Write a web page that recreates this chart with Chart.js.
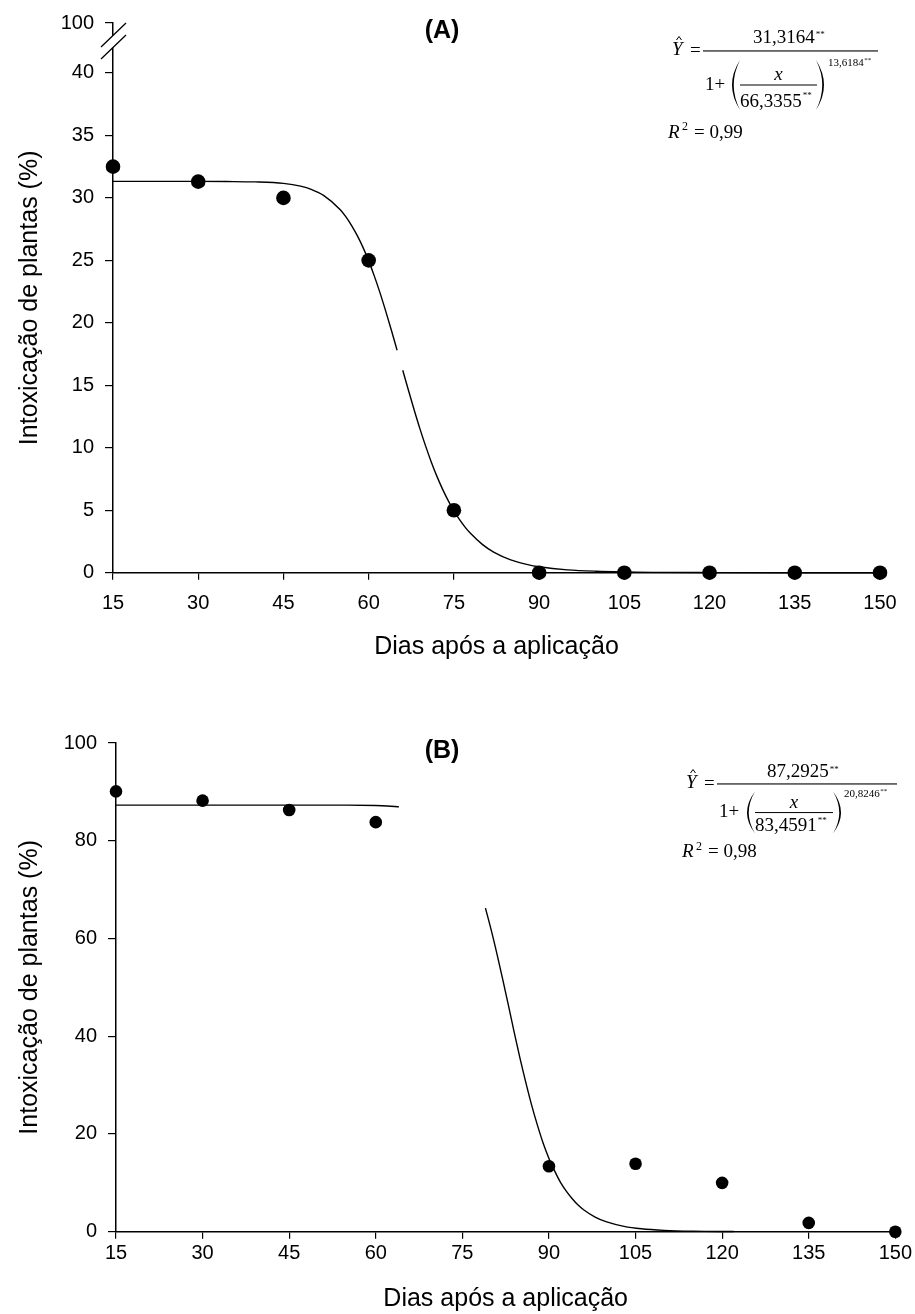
<!DOCTYPE html>
<html><head><meta charset="utf-8">
<script src="https://cdn.jsdelivr.net/npm/chart.js@4.4.0/dist/chart.umd.min.js"></script>
<style>
html,body{margin:0;padding:0;background:#fff;}
#wrap{position:relative;width:915px;height:1314px;}
#ca{position:absolute;left:0;top:0;}
#cb{position:absolute;left:0;top:670px;}
</style></head><body>
<div id="wrap"><canvas id="ca" width="915" height="670"></canvas><canvas id="cb" width="915" height="644"></canvas></div>
<script>
// ---------- data ----------
const xTitle = 'Dias após a aplicação';
const yTitle = 'Intoxicação de plantas (%)';
const xTicks = [15,30,45,60,75,90,105,120,135,150];

const daysA = [15,30,45,60,75,90,105,120,135,150];
const valuesA = [32.5,31.3,30.0,25.0,5.0,0,0,0,0,0];
const yTickPosA = [0,5,10,15,20,25,30,35,40,44];
const yTickLabelsA = ['0','5','10','15','20','25','30','35','40','100'];
const curveAx = [15,20,25,30,35,40,45,48,50,52,55,56,57,58,59,60,61,62,63,64,65,65.5,66,67,68,69,70,71,72,73,74,75,76,77,78,80,82,85,88,90,95,100,110,120,135,150];
const curveAy = [31.32,31.32,31.32,31.32,31.31,31.28,31.16,30.94,30.66,30.22,29.05,28.48,27.79,26.98,26.04,24.96,23.74,22.40,20.94,19.41,17.81,null,16.20,14.60,13.04,11.55,10.17,8.89,7.73,6.69,5.77,4.95,4.25,3.63,3.11,2.27,1.65,1.03,0.65,0.48,0.23,0.12,0.03,0.01,0,0];

const daysB = [15,30,45,60,90,105,120,135,150];
const valuesB = [90.1,88.2,86.3,83.8,13.4,13.9,10.0,1.8,0];
const yTickPosB = [0,20,40,60,80,100];
const yTickLabelsB = ['0','20','40','60','80','100'];
const curveBx = [15,30,45,55,60,62,64,70,79,80,81,82,83,84,85,86,87,88,89,90,91,92,93,94,95,96,98,100,103,106,110,115,122];
const curveBy = [87.29,87.29,87.29,87.28,87.20,87.11,86.95,null,66.2,61.7,56.8,51.6,46.2,40.7,35.4,30.5,25.9,21.8,18.1,15.0,12.4,10.1,8.3,6.8,5.5,4.5,3.0,2.0,1.1,0.6,0.28,0.11,0.03];

const eqA = {num:'31,3164', den:'66,3355', ex:'13,6184', r2:'= 0,99'};
const eqB = {num:'87,2925', den:'83,4591', ex:'20,8246', r2:'= 0,98'};

// ---------- helpers ----------
const FS = '"Liberation Sans", Arial, sans-serif';
const SERIF = '"Liberation Serif", "Times New Roman", serif';
const pts = (xs, ys) => xs.map((x,i)=>({x, y: ys[i]}));

function drawEq(ctx, x0, y0, sy, e, g) {
  ctx.save();
  ctx.fillStyle = '#000'; ctx.strokeStyle = '#000';
  ctx.textAlign = 'left'; ctx.textBaseline = 'alphabetic';
  const F = (s, it) => (it ? 'italic ' : '') + s + 'px ' + SERIF;
  // Y hat
  ctx.font = F(19, true); ctx.fillText('Y', x0 - 31, y0 + 4);
  ctx.lineWidth = 1;
  ctx.beginPath(); ctx.moveTo(x0 - 26.5, y0 - 11); ctx.lineTo(x0 - 24, y0 - 14.5); ctx.lineTo(x0 - 21.5, y0 - 11); ctx.stroke();
  ctx.font = F(19, false); ctx.fillText('=', x0 - 13, y0 + 5);
  // main fraction line
  ctx.fillRect(x0, y0 - 0.6, g.len, 1.1);
  // numerator
  ctx.font = F(19, false); ctx.fillText(e.num, x0 + 50, y0 - 8 * sy);
  let w = ctx.measureText(e.num).width;
  ctx.font = F(9, false); ctx.fillText('**', x0 + 51 + w, y0 - 14 * sy);
  // denominator
  ctx.font = F(19, false); ctx.fillText('1+', x0 + 2, y0 + 39 * sy);
  // parens
  const pt = y0 + 9 * sy, pb = y0 + 59 * sy, pm = (pt + pb) / 2;
  const paren = (xe, xb, xi) => {
    ctx.beginPath(); ctx.moveTo(xe, pt);
    ctx.quadraticCurveTo(xb, pm, xe, pb);
    ctx.quadraticCurveTo(xi, pm, xe, pt);
    ctx.closePath(); ctx.fill();
  };
  paren(x0 + g.pl + 11, x0 + g.pl - 5, x0 + g.pl - 1.5);
  paren(x0 + g.pr - 11, x0 + g.pr + 5, x0 + g.pr + 1.5);
  // inner fraction
  ctx.font = F(19, true); ctx.textAlign = 'center';
  ctx.fillText('x', x0 + (g.il + g.ir) / 2, y0 + 29 * sy);
  ctx.textAlign = 'left';
  ctx.fillRect(x0 + g.il, y0 + 34 * sy - 0.5, g.ir - g.il, 1);
  ctx.font = F(19, false); ctx.fillText(e.den, x0 + g.il, y0 + 56 * sy);
  w = ctx.measureText(e.den).width;
  ctx.font = F(9, false); ctx.fillText('**', x0 + g.il + w + 1, y0 + 47 * sy);
  // exponent
  ctx.font = F(11, false); ctx.fillText(e.ex, x0 + g.ex, y0 + 15 * sy);
  w = ctx.measureText(e.ex).width;
  ctx.font = F(7, false); ctx.fillText('**', x0 + g.ex + w + 0.5, y0 + 11 * sy);
  // R^2
  ctx.font = F(19, true); ctx.fillText('R', x0 - 35, y0 + 87 * sy);
  ctx.font = F(12, false); ctx.fillText('2', x0 - 21, y0 + 79 * sy);
  ctx.font = F(19, false); ctx.fillText(e.r2, x0 - 9, y0 + 87 * sy);
  ctx.restore();
}

function axisCommon(opts) {
  return Object.assign({
    type: 'linear',
    grid: {display: true, drawOnChartArea: false, drawTicks: true, tickLength: 8, color: '#000', lineWidth: 1.2},
    border: {display: true, color: '#000', width: 1.5},
  }, opts);
}

function makeChart(id, cfg) {
  const xs = axisCommon({
    min: 15, max: 150,
    afterBuildTicks: s => { s.ticks = xTicks.map(v => ({value: v})); },
    ticks: {color: '#000', font: {family: FS, size: 20}, padding: cfg.xPad, maxRotation: 0, autoSkip: false},
    title: {display: true, text: xTitle, color: '#000', font: {family: FS, size: 25, lineHeight: 1.2}, padding: {top: 0, bottom: cfg.xTitlePad}},
    afterFit: s => { s.height = cfg.xHeight; }
  });
  xs.grid = Object.assign({}, xs.grid, {tickLength: 7});
  const ys = axisCommon({
    min: 0, max: cfg.yMax,
    afterBuildTicks: s => { s.ticks = cfg.yPos.map(v => ({value: v})); },
    ticks: {color: '#000', font: {family: FS, size: 20}, padding: 11, callback: (v, i) => cfg.yLabels[i]},
    title: {display: true, text: yTitle, color: '#000', font: {family: FS, size: 25, lineHeight: 1.2}, padding: {top: 15, bottom: 0}},
    afterFit: s => { s.width = cfg.yWidth; }
  });
  return new Chart(document.getElementById(id), {
    data: {
      datasets: [
        {type: 'line', data: pts(cfg.cx, cfg.cy), borderColor: '#000', borderWidth: 1.4, pointRadius: 0,
         cubicInterpolationMode: 'monotone', spanGaps: false, clip: false, order: 2},
        {type: 'scatter', data: pts(cfg.px, cfg.py), backgroundColor: '#000', borderWidth: 0,
         pointRadius: cfg.r, pointHoverRadius: cfg.r, clip: false, order: 1}
      ]
    },
    options: {
      responsive: false, animation: false,
      layout: {padding: cfg.padding},
      plugins: {legend: {display: false}, tooltip: {enabled: false}},
      scales: {x: xs, y: ys}
    },
    plugins: [{
      id: 'extras' + id,
      afterDraw(chart) {
        const ctx = chart.ctx;
        ctx.save();
        ctx.fillStyle = '#000';
        ctx.font = 'bold 25px ' + FS;
        ctx.textAlign = 'center'; ctx.textBaseline = 'middle';
        ctx.fillText(cfg.label, cfg.labelX, cfg.labelY);
        ctx.restore();
        drawEq(ctx, cfg.eqX, cfg.eqY, cfg.eqSy, cfg.eq, cfg.eqG);
        if (cfg.axisBreak) {
          const L = chart.chartArea.left, T = chart.chartArea.top;
          ctx.save();
          ctx.fillStyle = '#fff';
          ctx.beginPath();
          ctx.moveTo(L - 12, T + 24); ctx.lineTo(L + 13, T);
          ctx.lineTo(L + 13, T + 12); ctx.lineTo(L - 12, T + 36);
          ctx.closePath(); ctx.fill();
          ctx.strokeStyle = '#000'; ctx.lineWidth = 1.3;
          ctx.beginPath();
          ctx.moveTo(L - 12, T + 24); ctx.lineTo(L + 13, T);
          ctx.moveTo(L - 12, T + 36); ctx.lineTo(L + 13, T + 12);
          ctx.stroke();
          ctx.restore();
        }
      }
    }]
  });
}

makeChart('ca', {
  cx: curveAx, cy: curveAy, px: daysA, py: valuesA, r: 7.3,
  yMax: 44, yPos: yTickPosA, yLabels: yTickLabelsA,
  yWidth: 113, xHeight: 670 - 572.7, xPad: 12, xTitlePad: 8,
  padding: {top: 19, right: 35, left: 0, bottom: 0},
  label: '(A)', labelX: 442, labelY: 31,
  eq: eqA, eqX: 703, eqY: 51, eqSy: 1, eqG: {len: 175, pl: 26, pr: 124, il: 37, ir: 114, ex: 125},
  axisBreak: true
});

makeChart('cb', {
  cx: curveBx, cy: curveBy, px: daysB, py: valuesB, r: 6.3,
  yMax: 100, yPos: yTickPosB, yLabels: yTickLabelsB,
  yWidth: 116, xHeight: 644 - (1231.7 - 670), xPad: 3, xTitlePad: 0,
  padding: {top: 73, right: 17, left: 0, bottom: 0},
  label: '(B)', labelX: 442, labelY: 81,
  eq: eqB, eqX: 717, eqY: 114, eqSy: 0.84, eqG: {len: 180, pl: 27, pr: 127, il: 38, ir: 116, ex: 127},
  axisBreak: false
});
</script>
</body></html>
